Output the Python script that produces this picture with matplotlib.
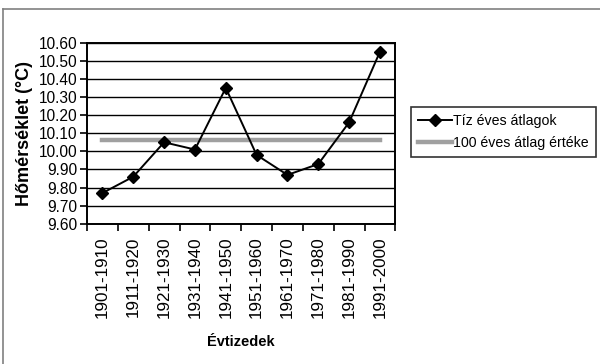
import matplotlib.pyplot as plt
import numpy as np
from matplotlib.lines import Line2D

plt.rcParams['font.family'] = ['Liberation Sans', 'DejaVu Sans']

# data
decades = ['1901-1910', '1911-1920', '1921-1930', '1931-1940', '1941-1950',
           '1951-1960', '1961-1970', '1971-1980', '1981-1990', '1991-2000']
decade_means = [9.77, 9.86, 10.05, 10.01, 10.35, 9.98, 9.87, 9.93, 10.16, 10.55]
century_mean = 10.06
yticks = [9.60, 9.70, 9.80, 9.90, 10.00, 10.10, 10.20, 10.30, 10.40, 10.50, 10.60]

fig = plt.figure(figsize=(6, 3.64), dpi=100)
ax = fig.add_axes([0.145, 0.385, 0.514, 0.498])

x = np.arange(len(decades))
ax.plot(x, [century_mean] * len(x), color='#a0a0a0', lw=3.2, zorder=2)
ax.plot(x, decade_means, color='black', lw=1.4, marker='D', ms=6.5, zorder=3)

ax.set_xlim(-0.5, len(decades) - 0.5)
ax.set_ylim(9.60, 10.60)
ax.set_yticks(yticks)
ax.set_yticklabels(['%.2f' % v for v in yticks], fontsize=11.2)
ax.yaxis.grid(True, color='black', lw=1.0)
ax.set_axisbelow(True)

# ticks between categories, labels at centers
ax.set_xticks(np.arange(-0.5, len(decades), 1.0))
ax.set_xticklabels([])
ax.set_xticks(x, minor=True)
ax.set_xticklabels(decades, minor=True, rotation=90, fontsize=12.3)
ax.tick_params(axis='x', which='minor', length=0, pad=9)
ax.tick_params(axis='x', which='major', length=5, width=1.2, direction='out')
ax.tick_params(axis='y', length=5, width=1.2, direction='out', pad=2)

for s in ax.spines.values():
    s.set_linewidth(1.4)
    s.set_color('black')

ax.set_ylabel('Hőmérséklet (°C)', fontsize=13, fontweight='bold', labelpad=4)
ax.set_xlabel('Évtizedek', fontsize=10.5, fontweight='bold', labelpad=12)

handles = [Line2D([], [], color='black', lw=1.4, marker='D', ms=6.5),
           Line2D([], [], color='#a0a0a0', lw=3.2)]
leg = fig.legend(handles, ['Tíz éves átlagok', '100 éves átlag értéke'],
                 loc='upper left', bbox_to_anchor=(0.685, 0.706),
                 fontsize=10.2, frameon=True, fancybox=False,
                 handlelength=2.4, handletextpad=0.05, borderpad=0.5,
                 borderaxespad=0, labelspacing=0.55)
leg.get_frame().set_edgecolor('black')
leg.get_frame().set_linewidth(1.2)

# outer chart frame
fig.add_artist(Line2D([0.005, 0.005], [0, 0.975], color='#808080', lw=1.2))
fig.add_artist(Line2D([0.005, 1.0], [0.975, 0.975], color='#808080', lw=1.2))

fig.savefig('out.png', dpi=100)
